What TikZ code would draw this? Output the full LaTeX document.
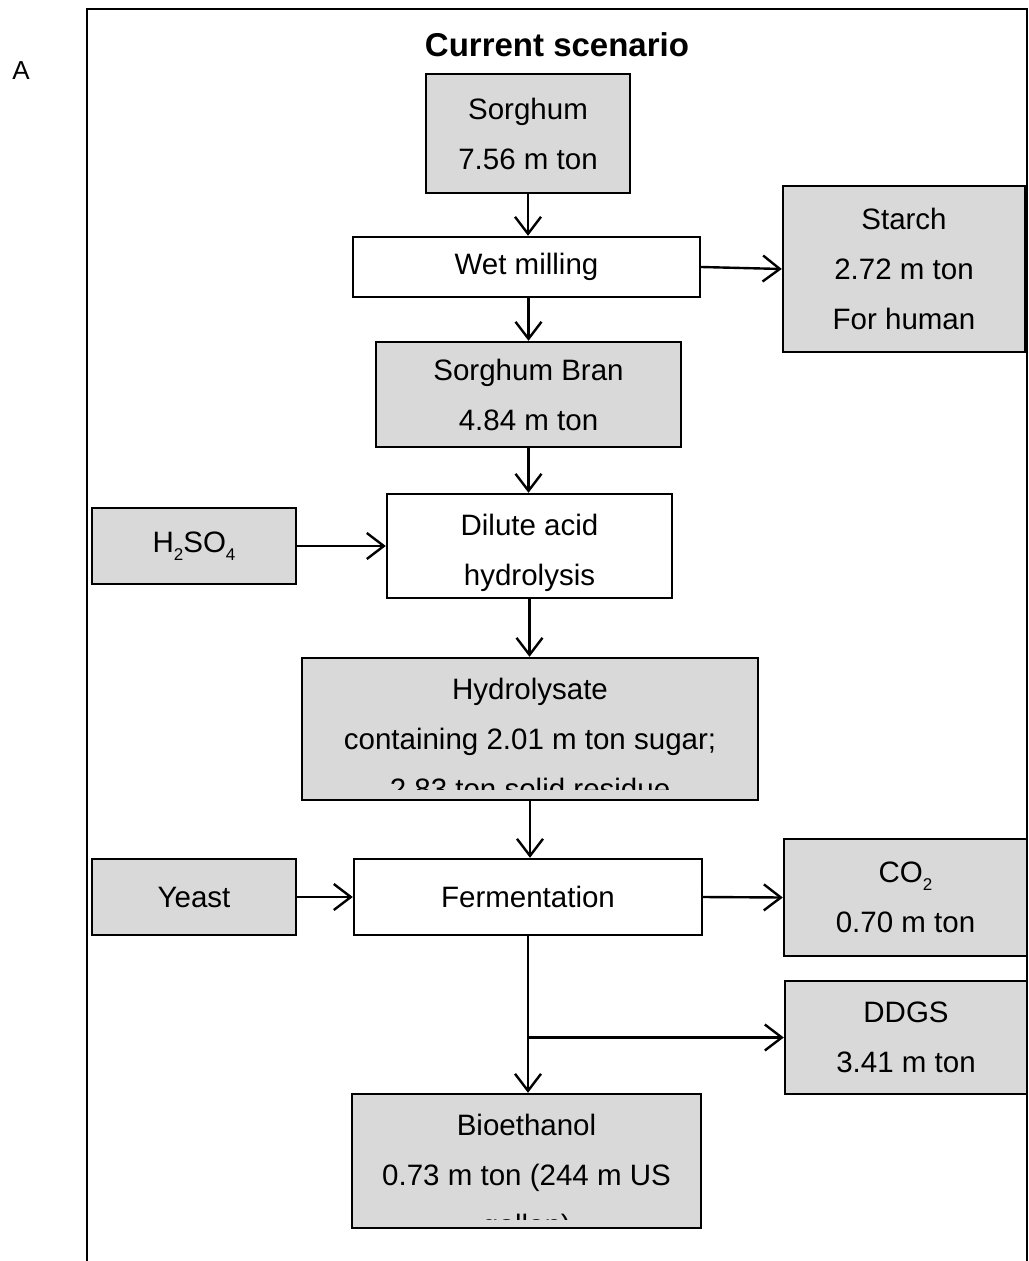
\documentclass[tikz,border=0pt]{standalone}
\usepackage{fontspec}
\setmainfont{Liberation Sans}
\usetikzlibrary{arrows.meta}
\definecolor{boxgray}{HTML}{D9D9D9}
\newcommand{\flowfont}{\fontsize{14.75}{25}\selectfont}
\newcommand{\chemsub}[1]{\raisebox{-4pt}{\fontsize{8.5}{8.5}\selectfont #1}}

\begin{document}
\begin{tikzpicture}[x=0.5pt,y=-0.5pt,
    box/.style={draw,line width=1.2pt,inner sep=0pt,align=center,font=\flowfont},
    greybox/.style={box,fill=boxgray},
    flow/.style={line width=1.2pt,-{Straight Barb[length=8.5pt,width=13pt,line width=1.2pt]}}]

  \clip (0,0) rectangle (1028,1261);
  \draw[line width=1.4pt] (87,9) rectangle (1027,1300);

  \node[font=\fontsize{13}{15}\selectfont] (panel) at (21,71) {A};
  \node[font=\fontsize{16.5}{20}\selectfont\bfseries] (title) at (557,45) {Current scenario};

  \node[greybox,minimum width=102pt,minimum height=59.5pt] (sorghum) at (528,133.5) {Sorghum\\7.56 m ton};
  \node[box,minimum width=173.5pt,minimum height=30pt]      (wetmill) at (526.5,267) {Wet milling};
  \node[greybox,minimum width=121pt,minimum height=83pt]    (starch)  at (904,269)   {Starch\\2.72 m ton\\For human};
  \node[greybox,minimum width=152.5pt,minimum height=52.5pt] (bran)   at (528.5,394.5) {Sorghum Bran\\4.84 m ton};
  \node[greybox,minimum width=102pt,minimum height=38pt]    (acid)    at (194,546)   {H\chemsub{2}SO\chemsub{4}};
  \node[box,minimum width=142.5pt,minimum height=52pt]      (dilute)  at (529.5,546) {\strut Dilute acid\\hydrolysis};
  \node[greybox,minimum width=228pt,minimum height=71pt,
        path picture={\node[draw=none,fill=none,font=\flowfont,align=center]
          at ([yshift=-5pt]path picture bounding box.center)
          {Hydrolysate\\containing 2.01 m ton sugar;\\2.83 ton solid residue};
          \fill[boxgray] ([yshift=5pt]path picture bounding box.south west)
            rectangle (path picture bounding box.south east);}] (hydro) at (530,729) {};
  \node[greybox,minimum width=102pt,minimum height=38pt]    (yeast)   at (194,897)   {Yeast};
  \node[box,minimum width=174pt,minimum height=38pt]        (ferment) at (528,897)   {Fermentation};
  \node[greybox,minimum width=121.5pt,minimum height=58.5pt] (co2)    at (905.5,897.5) {CO\chemsub{2}\\0.70 m ton};
  \node[greybox,minimum width=121pt,minimum height=56.5pt]  (ddgs)    at (906,1037.5) {DDGS\\3.41 m ton};
  \node[greybox,minimum width=174.5pt,minimum height=67pt,
        path picture={\node[draw=none,fill=none,font=\flowfont,align=center]
          at ([yshift=-8.5pt]path picture bounding box.center)
          {Bioethanol\\0.73 m ton (244 m US\\gallon)};
          \fill[boxgray] ([yshift=4pt]path picture bounding box.south west)
            rectangle (path picture bounding box.south east);}] (bioeth) at (526.5,1161) {};

  \coordinate (split) at (ferment.south |- ddgs.west);

  \draw[flow] (sorghum.south) -- (sorghum.south |- wetmill.north);
  \draw[flow] (wetmill.east) -- (starch.west);
  \draw[flow] (wetmill.south -| bran.north) -- (bran.north);
  \draw[flow] (bran.south) -- (bran.south |- dilute.north);
  \draw[flow] (acid.east) -- (dilute.west);
  \draw[flow] (dilute.south) -- (dilute.south |- hydro.north);
  \draw[flow] (hydro.south) -- (hydro.south |- ferment.north);
  \draw[flow] (yeast.east) -- (ferment.west);
  \draw[flow] (ferment.east) -- (co2.west);
  \draw[flow] (ferment.south) -- (ferment.south |- bioeth.north);
  \draw[flow] (split) -- (ddgs.west);

\end{tikzpicture}
\end{document}
